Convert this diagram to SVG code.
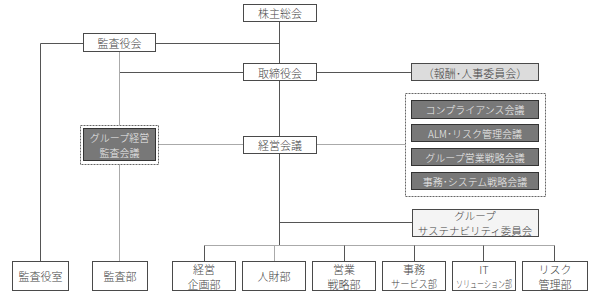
<svg xmlns="http://www.w3.org/2000/svg" width="600" height="297" viewBox="0 0 600 297">
<style>
text{font-family:"Noto Sans CJK JP","Noto Sans CJK SC",sans-serif;font-size:11px;font-weight:300;fill:#444;text-anchor:middle;dominant-baseline:central}
.box{fill:#fff;stroke:#4a4a4a;stroke-width:1}
.dark{fill:#787878;stroke:#333;stroke-width:1}
.dt{fill:#eeeeee;font-size:10px}
.pale{fill:#dcdcdc;stroke:#4a4a4a;stroke-width:1}
.light{fill:#f4f4f4;stroke:#4a4a4a;stroke-width:1}
.dash{fill:#fff;stroke:#666;stroke-width:1;stroke-dasharray:2 1}
.ln{stroke:#555;stroke-width:1;fill:none}
.lg{stroke:#aaa;stroke-width:1;fill:none}
.sm{font-size:10px}
.st{font-size:10.5px}
</style>
<g id="connectors">
<path class="ln" d="M279.5 21V136M279.5 153V245.5"/>
<path class="ln" d="M40.5 261V43.5H83M155 43.5H279.5"/>
<path class="ln" d="M119.5 72.5H243M316 72.5H411"/>
<path class="lg" d="M119.5 52V125M119.5 164V261"/>
<path class="lg" d="M158 144.5H243M316 144.5H405"/>
<path class="ln" d="M279.5 222.5H412"/>
<path class="lg" d="M204.5 245.5H554.5"/>
<path class="ln" d="M204.5 245.5V261M344.5 245.5V261M414.5 245.5V261M483.5 245.5V261M554.5 245.5V261"/>
<path class="lg" d="M274.5 245.5V261"/>
</g>
<g id="kabunushi"><rect class="box" x="243.5" y="4.5" width="73" height="17"/><text x="280" y="13">株主総会</text></g>
<g id="kansayakukai"><rect class="box" x="83.5" y="33.5" width="72" height="18"/><text x="119.5" y="43">監査役会</text></g>
<g id="torishimariyakukai"><rect class="box" x="243.5" y="63.5" width="73" height="17"/><text x="280" y="72.5">取締役会</text></g>
<g id="hoshu"><rect class="pale" x="411.5" y="63.5" width="127" height="17"/><text x="475" y="72.5">（報酬･人事委員会）</text></g>
<g id="group-kansa"><rect class="dash" x="80.5" y="125.5" width="78" height="39"/><rect class="dark" x="83.5" y="128.5" width="72" height="32"/><text class="dt" x="119.5" y="137">グループ経営</text><text class="dt" x="119.5" y="152">監査会議</text></g>
<g id="keieikaigi"><rect class="box" x="243.5" y="136.5" width="73" height="17"/><text x="280" y="145">経営会議</text></g>
<g id="kaigi-group"><rect class="dash" x="405.5" y="93.5" width="140" height="103"/></g>
<g id="compliance"><rect class="dark" x="411.5" y="100.5" width="127" height="18"/><text class="dt" x="475" y="109.5">コンプライアンス会議</text></g>
<g id="alm"><rect class="dark" x="411.5" y="124.5" width="127" height="17"/><text class="dt" x="475" y="133">ALM･リスク管理会議</text></g>
<g id="eigyo-senryaku-kaigi"><rect class="dark" x="411.5" y="148.5" width="127" height="17"/><text class="dt" x="475" y="157">グループ営業戦略会議</text></g>
<g id="jimu-system"><rect class="dark" x="411.5" y="172.5" width="127" height="17"/><text class="dt" x="475" y="181">事務･システム戦略会議</text></g>
<g id="sustainability"><rect class="light" x="412.5" y="209.5" width="126" height="27"/><text class="st" x="475" y="215.5">グループ</text><text class="st" x="475" y="230">サステナビリティ委員会</text></g>
<g id="kansayakushitsu"><rect class="box" x="12.5" y="261.5" width="56" height="29"/><text x="40.5" y="276">監査役室</text></g>
<g id="kansabu"><rect class="box" x="92.5" y="261.5" width="55" height="29"/><text x="120" y="276">監査部</text></g>
<g id="keiei-kikaku"><rect class="box" x="172.5" y="261.5" width="63" height="29"/><text x="204" y="268.5">経営</text><text x="204" y="283.5">企画部</text></g>
<g id="jinzai"><rect class="box" x="242.5" y="261.5" width="63" height="29"/><text x="274" y="276">人財部</text></g>
<g id="eigyo-senryaku"><rect class="box" x="312.5" y="261.5" width="63" height="29"/><text x="344" y="268.5">営業</text><text x="344" y="283.5">戦略部</text></g>
<g id="jimu-service"><rect class="box" x="382.5" y="261.5" width="63" height="29"/><text x="414" y="268.5">事務</text><text class="sm" x="414" y="283.5" textLength="46" lengthAdjust="spacingAndGlyphs">サービス部</text></g>
<g id="it-solution"><rect class="box" x="452.5" y="261.5" width="63" height="29"/><text x="484" y="268.5">IT</text><text class="sm" x="484" y="283.5" textLength="56" lengthAdjust="spacingAndGlyphs">ソリューション部</text></g>
<g id="risk"><rect class="box" x="522.5" y="261.5" width="65" height="29"/><text x="555" y="268.5">リスク</text><text x="555" y="283.5">管理部</text></g>
</svg>
